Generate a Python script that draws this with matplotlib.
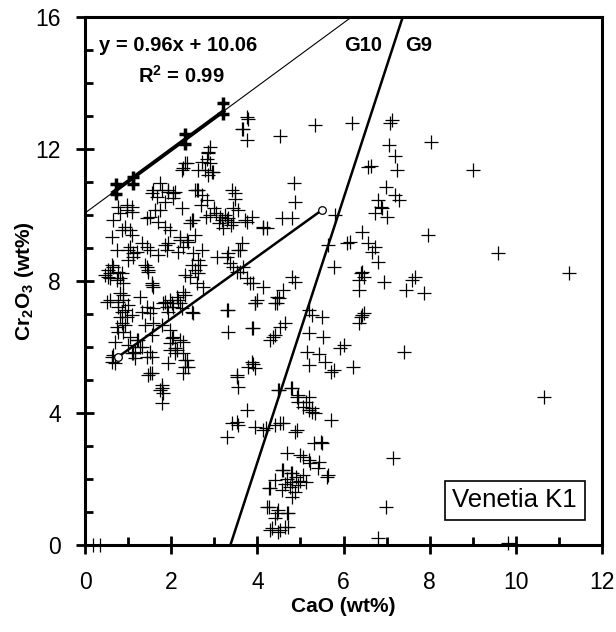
import numpy as np
import matplotlib
matplotlib.use('Agg')
import matplotlib.pyplot as plt

plt.rcParams['font.family'] = ['Liberation Sans', 'DejaVu Sans']
plt.rcParams['mathtext.fontset'] = 'custom'
plt.rcParams['mathtext.rm'] = 'Liberation Sans'
plt.rcParams['mathtext.bf'] = 'Liberation Sans:bold'

# regression points (drawn heavy)
reg_cao = [0.72, 0.72, 1.12, 1.12, 2.33, 2.33, 3.2, 3.2]
reg_cr = [10.65, 10.95, 10.95, 11.15, 12.15, 12.45, 13.05, 13.4]

# upper-left cluster
upl_cao = [2.37, 2.28, 2.86, 2.9, 2.98, 2.79, 2.9, 2.86, 2.83, 2.95, 2.86, 2.26, 2.33, 2.72, 2.63,
           1.74, 1.93, 2.05, 1.67, 1.56, 2.6, 2.72, 2.83, 3.49, 3.44, 3.42, 3.49, 3.56, 2.63, 1.79,
           1.93, 2.09, 1.58, 2.56, 0.98, 0.81, 1.09, 0.65, 0.93, 1.05, 1.63, 1.51, 1.7, 1.86, 1.98,
           2.21, 2.37, 2.51, 2.44, 3.14, 3.3, 3.44, 3.21, 3.77, 4.12, 3.19, 3.33, 3.72, 3.88, 0.77,
           0.98, 1.09, 1.86, 2.05, 2.26, 1.44, 1.74, 2.49, 0.86, 1.09, 0.63, 2.56, 2.4, 2.7, 2.9,
           3.0, 2.8, 3.1, 3.25, 3.4, 3.05]
upl_cr = [11.57, 11.42, 11.88, 11.57, 11.3, 11.36, 12.06, 11.9, 11.7, 11.3, 11.2, 11.36, 11.57, 11.6, 11.36,
          10.97, 10.76, 10.67, 10.55, 10.67, 10.76, 10.6, 10.45, 10.67, 10.2, 10.76, 10.5, 10.15, 10.76, 10.76,
          10.7, 10.7, 10.76, 10.76, 10.3, 10.06, 10.1, 9.85, 9.64, 9.55, 10.15, 9.94, 9.79, 9.64, 9.55,
          9.33, 9.24, 9.85, 9.76, 9.94, 9.85, 9.79, 9.6, 9.79, 9.6, 9.85, 9.9, 9.85, 9.94, 10.24,
          10.15, 10.24, 10.39, 10.52, 10.2, 9.91, 10.15, 9.85, 9.55, 9.39, 9.33, 9.39, 9.18, 10.3, 10.0,
          10.2, 9.95, 9.75, 10.0, 9.7, 10.05]

# high-Cr points right of the regression line
top_cao = [3.77, 3.67, 4.53, 3.79, 3.65, 3.77, 4.84, 4.88, 4.8, 4.58, 4.14, 4.23, 5.35, 6.2]
top_cr = [12.97, 12.6, 12.4, 12.9, 12.6, 12.27, 10.97, 10.4, 9.9, 9.9, 9.64, 9.6, 12.73, 12.8]

# middle-left cluster
mid_cao = [0.74, 1.05, 1.12, 1.0, 1.44, 1.51, 1.91, 1.93, 2.21, 2.28, 2.51, 2.63, 2.67, 2.56, 2.44,
           3.07, 3.3, 3.37, 3.44, 3.53, 3.65, 3.6, 3.56, 3.33, 2.72, 0.65, 0.58, 0.53, 0.74, 0.86,
           1.44, 1.47, 1.56, 1.58, 0.88, 0.81, 0.88, 0.77, 0.93, 0.58, 1.28, 1.44, 1.51, 1.81, 1.98,
           2.14, 1.91, 2.05, 2.21, 2.28, 2.51, 2.63, 2.6, 2.74, 3.67, 3.6, 3.77, 3.91, 4.14, 4.0,
           1.0, 1.21, 1.12, 1.33, 0.63, 0.53, 0.77, 0.58, 0.81, 0.47, 1.56, 1.47, 0.88, 0.77, 1.0,
           0.86, 0.51, 1.09, 1.33, 1.58, 1.86, 2.02, 2.16, 2.33, 1.93, 2.26, 2.49, 2.33, 2.49, 2.16,
           1.86, 1.7, 1.4, 3.3, 3.95, 4.46, 4.46]
mid_cr = [8.94, 9.03, 8.85, 8.64, 9.03, 8.94, 8.94, 9.15, 9.24, 9.03, 8.85, 8.64, 8.48, 8.33, 8.12,
          8.73, 8.73, 8.55, 8.42, 8.27, 9.15, 8.94, 8.94, 8.85, 8.94, 8.42, 8.24, 8.12, 8.03, 8.24,
          8.42, 8.33, 7.94, 7.82, 7.94, 7.64, 7.42, 7.21, 7.12, 7.42, 7.52, 7.21, 7.03, 7.33, 7.42,
          7.52, 7.21, 7.21, 7.33, 7.67, 7.03, 8.24, 7.94, 7.82, 8.42, 8.27, 8.09, 7.94, 7.82, 7.42,
          8.94, 8.88, 8.73, 9.15, 8.48, 8.33, 8.27, 8.09, 8.09, 8.18, 7.88, 8.27, 7.58, 7.36, 7.27,
          7.06, 7.36, 6.97, 7.06, 7.18, 7.36, 7.33, 7.42, 7.58, 7.06, 7.18, 7.06, 8.18, 8.48, 8.88,
          9.09, 8.79, 8.48, 7.12, 7.33, 7.52, 7.33]

# lower-left cluster
low_cao = [1.98, 2.05, 1.98, 2.14, 2.28, 2.37, 2.33, 2.21, 1.05, 1.21, 1.28, 1.12, 1.44, 1.51, 0.65,
           0.63, 0.88, 0.74, 1.51, 1.74, 1.79, 0.81, 0.98, 0.86, 1.58, 0.77, 0.93, 0.7, 1.0, 1.23,
           1.4, 1.56, 1.16, 1.79, 2.02, 2.09, 0.63, 0.7, 1.09, 1.16, 1.33, 1.56, 1.56, 1.47, 1.79,
           1.81, 1.79, 1.98, 2.09, 1.93, 2.33, 2.4, 2.28, 2.28]
low_cr = [6.52, 6.3, 6.12, 5.9, 5.82, 5.6, 5.4, 6.21, 6.3, 6.21, 6.0, 5.82, 5.7, 5.85, 5.76,
          5.55, 6.45, 6.6, 5.21, 4.7, 4.85, 6.91, 6.91, 6.73, 6.73, 6.45, 6.67, 6.15, 6.06, 6.21,
          6.67, 6.36, 5.85, 6.67, 6.27, 5.97, 5.7, 5.51, 5.82, 5.67, 6.0, 5.7, 5.21, 5.15, 4.76,
          4.6, 4.3, 5.9, 5.82, 5.51, 5.6, 5.4, 5.21, 6.15]

# central points near the G10/G9 line
cen_cao = [3.33, 3.33, 3.88, 4.65, 4.53, 4.42, 4.3, 3.88, 3.95, 3.79, 3.53, 3.56, 3.77, 3.53, 3.91,
           3.91, 4.37, 4.81, 4.88, 4.6, 4.5, 4.42, 3.95, 3.84, 3.53, 3.56, 3.3, 3.95, 4.19, 4.53,
           4.93, 3.42, 4.12, 4.42, 4.6, 4.88]
cen_cr = [7.12, 6.45, 6.58, 6.73, 6.6, 6.36, 6.2, 5.54, 5.36, 5.4, 5.15, 4.79, 4.09, 5.09, 5.5,
          6.58, 6.3, 8.12, 7.97, 7.73, 7.5, 7.33, 7.33, 7.94, 3.73, 3.64, 3.27, 3.58, 3.55, 3.7,
          3.48, 3.7, 3.48, 3.64, 3.7, 3.42]

# low-Cr G9 cluster
g9_cao = [4.47, 4.81, 4.95, 5.12, 5.27, 4.5, 4.77, 4.93, 5.19, 5.07, 5.28, 5.7, 5.31, 5.5, 4.7,
          5.0, 5.23, 4.6, 4.77, 5.65, 5.4, 4.3, 4.23, 4.46, 4.7, 4.3, 4.53, 4.72, 4.95, 5.19,
          5.35, 5.47, 5.05, 5.19, 5.42, 4.58, 4.81, 5.05, 4.42, 4.81, 4.95, 5.12, 4.26, 4.58, 4.88,
          4.81, 4.26, 4.49, 4.72, 4.42, 4.65, 4.35, 4.47, 4.7, 4.9, 5.0, 4.75, 4.65, 5.62]
g9_cr = [4.7, 4.76, 4.55, 4.33, 4.15, 4.7, 4.76, 4.48, 4.48, 4.18, 4.03, 3.79, 3.09, 3.09, 2.79,
         2.73, 2.48, 2.27, 2.18, 2.12, 2.33, 1.73, 1.15, 0.97, 0.97, 0.45, 0.45, 0.55, 4.33, 4.09,
         4.0, 3.12, 2.67, 2.58, 2.52, 2.27, 2.18, 2.12, 1.97, 1.91, 1.82, 1.91, 1.73, 1.67, 1.61,
         1.45, 1.15, 1.06, 0.97, 0.82, 0.55, 0.52, 0.39, 2.0, 2.05, 1.95, 1.75, 1.85, 2.06]

# high-Ca points right of the line
hca_cao = [5.19, 5.28, 5.5, 5.19, 5.16, 5.19, 6.4, 6.47, 6.35, 5.53, 5.42, 5.58, 5.93, 6.0, 5.77,
           6.21, 5.7, 7.4, 7.09, 7.13, 7.05, 7.2, 6.63, 6.58, 7.25, 6.98, 7.2, 7.28, 6.79, 6.86,
           6.9, 6.74, 7.02, 5.81, 6.44, 6.16, 6.09, 6.58, 6.74, 5.65, 6.67, 6.79, 5.77, 6.44, 6.4,
           6.47, 6.35, 6.93, 7.6, 7.67, 7.44, 7.86, 6.35, 6.44]
hca_cr = [7.12, 6.97, 6.91, 6.42, 5.85, 5.45, 6.91, 7.03, 6.73, 6.3, 5.8, 5.55, 5.97, 6.06, 5.3,
          5.39, 5.24, 5.85, 12.8, 12.88, 12.12, 11.8, 11.5, 11.46, 11.36, 10.85, 10.6, 10.45, 10.45, 10.24,
          10.2, 10.06, 9.94, 10.0, 9.48, 9.18, 9.15, 9.15, 9.03, 9.09, 8.88, 8.58, 8.42, 8.27, 8.24,
          8.12, 8.03, 7.97, 8.03, 8.12, 7.73, 7.64, 7.73, 6.97]

# scattered outliers
out_cao = [8.02, 9.0, 7.95, 9.58, 11.23, 10.65, 7.16, 6.98, 6.79, 9.81, 0.19, 0.35]
out_cr = [12.2, 11.36, 9.39, 8.85, 8.24, 4.48, 2.64, 1.15, 0.21, 0.06, 0.0, 0.0]

# regression fit
slope, intercept = 0.96, 10.06
# lherzolite trend end points
lhz_cao = [0.77, 5.5]
lhz_cr = [5.7, 10.15]

all_cao = upl_cao + top_cao + mid_cao + low_cao + cen_cao + g9_cao + hca_cao + out_cao
all_cr = upl_cr + top_cr + mid_cr + low_cr + cen_cr + g9_cr + hca_cr + out_cr

fig = plt.figure(figsize=(6.16, 6.32), dpi=100)
ax = fig.add_axes([85 / 616, 87 / 632, 517 / 616, 528 / 632])

ax.plot(all_cao, all_cr, '+', color='black', ms=10, mew=0.9, ls='none', clip_on=False)
ax.plot(reg_cao, reg_cr, '+', color='black', ms=9, mew=2.5, ls='none')

# regression line (thin) and fitted part (thick)
xr = np.array([0, (16 - intercept) / slope])
ax.plot(xr, slope * xr + intercept, color='black', lw=0.8)
xf = np.array([0.62, 3.25])
ax.plot(xf, slope * xf + intercept, color='black', lw=2.8, solid_capstyle='butt')

# G10 / G9 boundary
yg = np.array([0, 16])
ax.plot(3.375 + 0.25 * yg, yg, color='black', lw=1.8)

# lherzolite trend
ax.plot(lhz_cao, lhz_cr, color='black', lw=1.8)
ax.plot(lhz_cao, lhz_cr, 'o', ms=5.5, mfc='white', mec='black', mew=0.9, ls='none')

ax.set_xlim(0, 12)
ax.set_ylim(0, 16)
ax.set_xticks(np.arange(0, 13, 2))
ax.set_yticks(np.arange(0, 17, 4))
ax.set_xticks(np.arange(0, 13, 1), minor=True)
ax.set_yticks(np.arange(0, 17, 1), minor=True)
ax.tick_params(which='major', direction='inout', length=13, width=2, labelsize=16.5)
ax.tick_params(axis='x', which='major', pad=12)
ax.tick_params(axis='y', which='major', pad=11)
ax.tick_params(which='minor', direction='in', length=6, width=2)
for sp in ax.spines.values():
    sp.set_linewidth(2.2)

ax.set_xlabel('CaO (wt%)', fontsize=15, fontweight='bold')
ax.set_ylabel(r'Cr$_{\mathbf{2}}$O$_{\mathbf{3}}$ (wt%)', fontsize=15, fontweight='bold')
ax.xaxis.set_label_coords(0.5, -0.099)
ax.yaxis.set_label_coords(-0.095, 0.5)

ax.text(0.33, 15.15, 'y = 0.96x + 10.06', fontsize=14.5, fontweight='bold', va='center')
ax.text(1.23, 14.22, r'R$^{\mathbf{2}}$ = 0.99', fontsize=14.5, fontweight='bold', va='center')
ax.text(6.02, 15.15, 'G10', fontsize=14.5, fontweight='bold', va='center')
ax.text(7.44, 15.15, 'G9', fontsize=14.5, fontweight='bold', va='center')
ax.text(9.97, 1.35, 'Venetia K1', fontsize=18.5, ha='center', va='center',
        bbox=dict(boxstyle='square,pad=0.3', fc='white', ec='black', lw=1.2))

fig.savefig('out.png', dpi=100)
